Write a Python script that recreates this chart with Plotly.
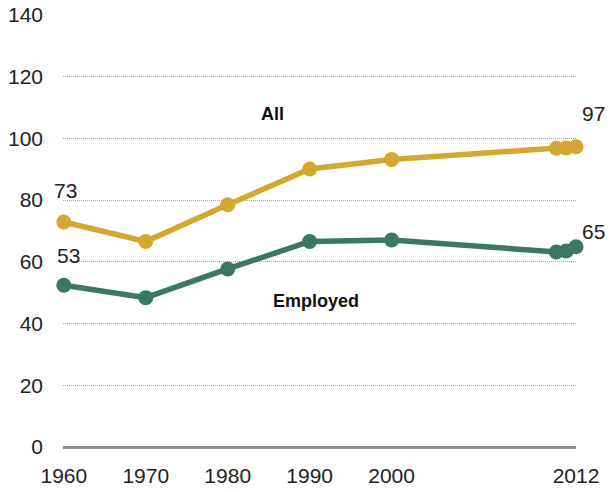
import plotly.graph_objects as go

years = [1960, 1970, 1980, 1990, 2000, 2010, 2011, 2012]
# horizontal slot of each year on the original (non-linear) time axis
slots = [0, 1, 2, 3, 4, 6.01, 6.13, 6.25]
all_vals = [72.9, 66.6, 78.5, 90.1, 93.2, 96.8, 96.9, 97.3]
employed_vals = [52.4, 48.4, 57.7, 66.6, 67.1, 63.2, 63.5, 64.9]
tick_years = ["1960", "1970", "1980", "1990", "2000", "2012"]
tick_slots = [0, 1, 2, 3, 4, 6.25]
end_labels = ["73", "53", "97", "65"]

gold = "#D3A730"
green = "#3A7764"
font = "Liberation Sans"

fig = go.Figure()
fig.add_trace(go.Scatter(x=slots, y=all_vals, mode="lines+markers",
                         line=dict(color=gold, width=5.5), marker=dict(size=15, color=gold),
                         cliponaxis=False, customdata=years, showlegend=False))
fig.add_trace(go.Scatter(x=slots, y=employed_vals, mode="lines+markers",
                         line=dict(color=green, width=5.5), marker=dict(size=15, color=green),
                         cliponaxis=False, customdata=years, showlegend=False))

ann = dict(showarrow=False, font=dict(family=font, size=21, color="#222"))
fig.add_annotation(x=slots[0], y=all_vals[0], text=end_labels[0], xshift=2, yshift=32, **ann)
fig.add_annotation(x=slots[0], y=employed_vals[0], text=end_labels[1], xshift=5, yshift=30, **ann)
fig.add_annotation(x=slots[-1], y=all_vals[-1], text=end_labels[2], xshift=17, yshift=33, **ann)
fig.add_annotation(x=slots[-1], y=employed_vals[-1], text=end_labels[3], xshift=17, yshift=15, **ann)
fig.add_annotation(x=2.55, y=108, text="<b>All</b>", showarrow=False,
                   font=dict(family=font, size=18, color="#111"))
fig.add_annotation(x=3.08, y=47.3, text="<b>Employed</b>", showarrow=False,
                   font=dict(family=font, size=18, color="#111"))

fig.update_layout(
    width=614, height=492,
    margin=dict(l=63, r=38, t=15, b=45),
    paper_bgcolor="white", plot_bgcolor="white",
    font=dict(family=font, size=21, color="#222"),
    xaxis=dict(range=[-0.01, 6.25], tickvals=tick_slots, ticktext=tick_years,
               showgrid=False, zeroline=False, showline=False, ticks="",
               automargin=False, ticklabelstandoff=14, tickfont=dict(size=21)),
    yaxis=dict(range=[0, 140], dtick=20, showgrid=True, gridcolor="#a8a8a8",
               griddash="1px,1px", gridwidth=1, zeroline=True, zerolinecolor="#8c8c8c",
               zerolinewidth=3, ticks="", automargin=False, ticklabelstandoff=19,
               tickfont=dict(size=21)),
)

fig.write_html("out.html", config={"displayModeBar": False},
               post_script="document.body.style.margin='0';document.body.style.overflow='hidden';")
